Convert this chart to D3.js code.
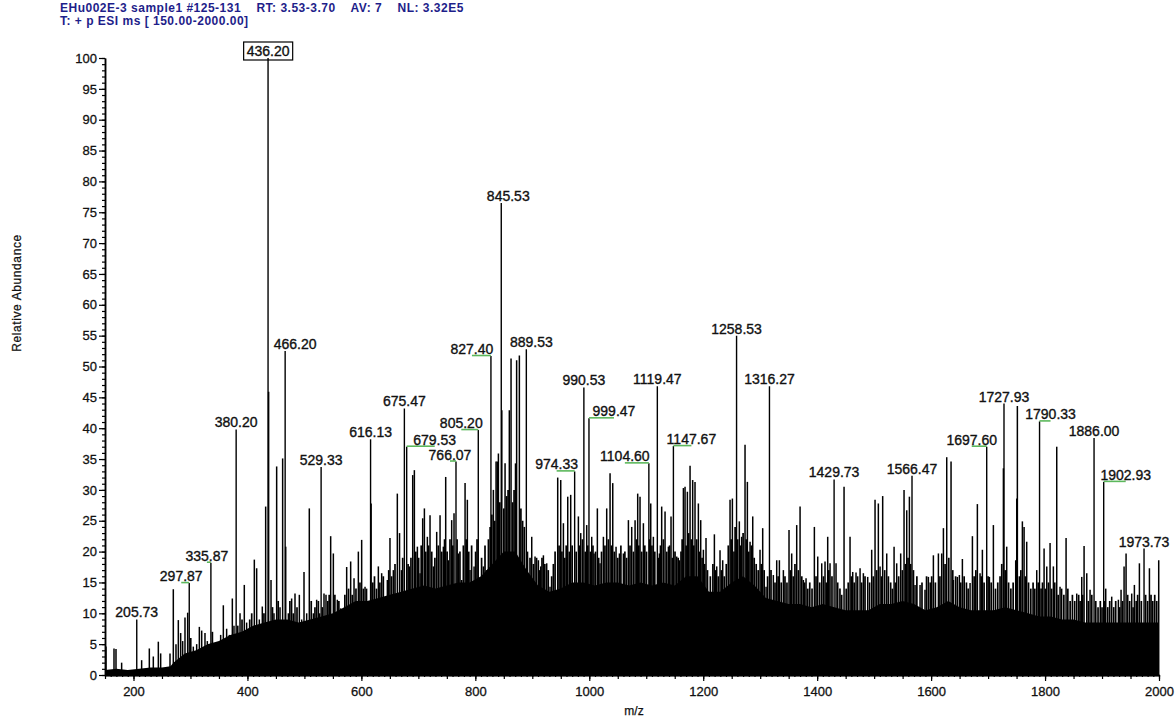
<!DOCTYPE html>
<html>
<head>
<meta charset="utf-8">
<script src="https://cdn.jsdelivr.net/npm/d3@7"></script>
<style>
  body { margin: 0; background: #fff; }
  svg { display: block; }
  text { font-family: "Liberation Sans", Arial, sans-serif; }
</style>
</head>
<body>
<svg id="chart" width="1175" height="719"></svg>
<script>
// ---- scan header ----
const headerLines = [
  "EHu002E-3 sample1 #125-131    RT: 3.53-3.70    AV: 7    NL: 3.32E5",
  "T: + p ESI ms [ 150.00-2000.00]"
];

// ---- annotated peaks (m/z, relative abundance %) ----
const labeledMz = [205.73, 297.87, 335.87, 380.20, 436.20, 466.20, 529.33, 616.13, 675.47, 679.53,
  766.07, 805.20, 827.40, 845.53, 889.53, 974.33, 990.53, 999.47, 1104.60, 1119.47,
  1147.67, 1258.53, 1316.27, 1429.73, 1566.47, 1697.60, 1727.93, 1790.33, 1886.00, 1902.93, 1973.73];
const labeledAb = [9.0, 14.9, 18.2, 39.8, 100, 52.5, 33.7, 38.2, 43.2, 37.0,
  34.6, 39.7, 51.7, 76.5, 52.8, 33.0, 46.6, 41.6, 34.3, 46.8,
  37.1, 55.0, 46.8, 31.7, 32.3, 37.0, 44.0, 41.1, 38.4, 31.3, 20.5];

// ---- other resolved peaks (m/z, relative abundance %) ----
const peakMz = [151.7, 165.8, 169.3, 179.2, 214.3, 227.8, 234.8, 243.6, 247.7, 264.1,
  269.9, 274.6, 278.7, 282.8, 286.3, 290.4, 295.1, 305.0, 310.9, 315.6,
  319.7, 325.5, 329.6, 343.1, 347.2, 353.0, 357.7, 363.5, 368.2, 373.5,
  376.4, 387.0, 394.5, 398.6, 412.1, 416.2, 420.9, 426.1, 432.0, 437.2,
  441.4, 446.6, 451.3, 457.2, 461.8, 467.2, 477.6, 483.5, 491.1, 495.2,
  499.3, 504.0, 508.6, 515.7, 521.5, 534.4, 537.9, 546.1, 550.8, 557.8,
  563.6, 568.3, 574.2, 581.2, 587.1, 594.7, 600.5, 606.4, 612.2, 617.1,
  629.8, 635.6, 641.5, 645.6, 650.2, 656.1, 663.1, 667.0, 684.2, 690.1,
  693.0, 698.3, 703.0, 707.6, 710.6, 715.8, 720.5, 726.4, 732.2, 738.1,
  743.9, 748.0, 752.7, 758.5, 762.6, 770.2, 776.1, 782.0, 786.0, 790.7,
  797.8, 808.3, 814.1, 820.0, 831.7, 836.4, 838.6, 840.5, 846.5, 852.2,
  859.7, 862.7, 870.5, 872.5, 877.3, 893.1, 899.0, 904.8, 910.7, 914.8,
  919.5, 925.3, 931.1, 944.6, 949.9, 954.6, 962.2, 967.4, 980.9, 985.0,
  995.5, 1004.3, 1008.4, 1014.2, 1018.9, 1024.8, 1030.6, 1036.5, 1041.2, 1047.0,
  1052.9, 1059.9, 1068.7, 1074.5, 1080.4, 1085.0, 1089.1, 1095.0, 1107.9, 1112.5,
  1123.1, 1127.1, 1133.0, 1138.9, 1143.5, 1153.5, 1158.2, 1165.2, 1168.1, 1172.2,
  1176.9, 1181.5, 1185.6, 1191.5, 1195.6, 1200.3, 1204.9, 1214.9, 1219.6, 1223.7,
  1229.5, 1234.2, 1247.1, 1251.2, 1263.4, 1267.5, 1273.4, 1277.5, 1282.2, 1286.9,
  1299.7, 1304.4, 1310.3, 1323.1, 1329.0, 1333.7, 1340.7, 1350.6, 1355.3, 1364.1,
  1370.0, 1375.8, 1380.5, 1395.1, 1401.0, 1408.0, 1413.8, 1418.5, 1422.6, 1433.1,
  1447.2, 1457.7, 1462.4, 1468.2, 1475.3, 1481.1, 1488.7, 1495.7, 1501.6, 1507.4,
  1510.4, 1515.0, 1522.1, 1535.0, 1539.6, 1546.6, 1552.5, 1557.2, 1561.9, 1571.8,
  1580.6, 1589.3, 1595.2, 1604.0, 1612.8, 1618.6, 1621.6, 1627.4, 1635.0, 1639.1,
  1646.1, 1649.6, 1654.9, 1668.4, 1672.5, 1681.2, 1685.9, 1690.0, 1702.3, 1709.3,
  1726.9, 1732.7, 1748.5, 1750.3, 1751.4, 1760.2, 1763.2, 1767.8, 1785.4, 1798.3,
  1803.0, 1808.8, 1814.6, 1820.5, 1826.3, 1836.9, 1855.6, 1864.4, 1868.5, 1873.2,
  1879.0, 1906.5, 1917.0, 1928.7, 1933.4, 1938.7, 1942.2, 1952.1, 1956.8, 1965.6,
  1983.2, 1999.5];
const peakAb = [4.6, 4.3, 4.2, 2.0, 2.4, 4.3, 3.0, 5.4, 3.5, 3.5,
  13.9, 5.0, 8.9, 6.8, 5.5, 9.3, 10.1, 4.6, 5.0, 7.8,
  7.2, 6.8, 5.5, 5.0, 5.2, 6.5, 11.3, 7.5, 6.5, 12.4,
  8.0, 10.0, 14.6, 8.5, 18.7, 17.3, 9.0, 11.1, 27.3, 45.9,
  15.4, 10.0, 33.8, 11.0, 35.1, 20.8, 12.4, 13.2, 13.0, 9.0,
  16.7, 10.0, 27.0, 10.0, 12.2, 13.2, 13.0, 22.5, 19.7, 12.2,
  10.8, 9.0, 17.5, 18.4, 15.7, 20.0, 21.9, 14.3, 11.0, 27.8,
  17.6, 16.5, 12.2, 15.4, 22.2, 17.0, 29.4, 23.0, 17.6, 32.4,
  33.2, 20.8, 16.5, 25.4, 27.0, 22.4, 25.9, 17.6, 23.2, 25.9,
  20.8, 32.1, 18.6, 25.1, 26.2, 19.7, 15.4, 31.1, 28.4, 17.0,
  17.6, 14.3, 17.6, 17.0, 30.0, 34.6, 34.6, 35.9, 42.9, 34.3,
  42.9, 51.3, 34.3, 51.0, 51.8, 15.4, 22.4, 19.2, 18.6, 17.6,
  19.4, 18.1, 14.3, 32.0, 31.6, 24.6, 28.9, 29.2, 25.7, 23.0,
  24.3, 22.4, 19.7, 27.0, 18.1, 22.4, 27.0, 32.7, 31.1, 20.8,
  19.7, 19.7, 25.1, 24.0, 25.1, 29.4, 28.9, 24.6, 27.8, 22.4,
  19.7, 27.3, 26.5, 20.8, 25.7, 19.2, 18.6, 30.3, 30.5, 29.7,
  33.9, 31.6, 31.3, 27.8, 25.1, 20.3, 22.2, 13.2, 22.8, 17.6,
  20.2, 18.6, 28.4, 28.6, 24.9, 22.4, 37.3, 31.3, 21.6, 25.7,
  20.3, 23.8, 14.3, 16.2, 18.6, 18.6, 17.0, 23.5, 19.7, 24.3,
  27.3, 15.4, 15.7, 24.0, 19.2, 18.1, 18.4, 22.4, 18.1, 18.1,
  30.5, 22.4, 16.7, 16.6, 17.3, 16.5, 15.9, 20.3, 28.4, 27.8,
  17.6, 29.0, 19.7, 20.8, 18.1, 19.7, 30.0, 26.7, 28.9, 14.6,
  14.6, 13.8, 15.9, 19.4, 19.7, 19.7, 23.8, 35.3, 34.6, 15.4,
  15.9, 16.2, 18.8, 14.9, 22.5, 27.7, 16.5, 20.3, 15.9, 24.3,
  33.5, 20.8, 18.6, 28.6, 43.6, 24.9, 24.0, 21.6, 17.0, 20.5,
  17.6, 21.4, 17.6, 37.0, 14.3, 22.2, 13.2, 15.9, 20.9, 16.5,
  13.8, 14.0, 12.7, 12.2, 13.8, 17.6, 19.7, 13.2, 14.6, 18.1,
  17.3, 18.6];

// ---- small peaks packed between the resolved ones (m/z, relative abundance %) ----
const minorMz = [300.5, 338.5, 340.5, 383.0, 390.5, 404.0, 407.5, 429.0, 444.0, 454.0,
  472.0, 474.5, 480.5, 487.0, 512.0, 518.5, 524.5, 526.5, 531.5, 541.0,
  543.5, 553.5, 560.5, 571.0, 577.5, 584.0, 590.5, 597.5, 603.5, 609.0,
  620.0, 623.0, 626.5, 632.5, 638.5, 648.0, 653.0, 659.0, 670.5, 672.5,
  682.0, 687.0, 695.5, 700.5, 705.0, 713.0, 718.0, 723.5, 729.0, 735.0,
  741.0, 746.0, 750.5, 755.5, 760.5, 768.0, 773.0, 779.0, 784.0, 788.5,
  793.5, 800.5, 803.0, 811.0, 817.0, 823.0, 826.0, 829.0, 834.0, 843.0,
  850.0, 855.0, 857.5, 865.5, 868.0, 880.0, 883.0, 886.0, 891.5, 896.0,
  902.0, 907.5, 912.5, 917.0, 922.0, 928.0, 934.0, 937.0, 940.0, 947.0,
  952.0, 957.0, 959.5, 965.0, 970.0, 977.0, 983.0, 988.0, 993.0, 997.5,
  1002.0, 1006.5, 1011.0, 1016.5, 1021.5, 1027.5, 1033.5, 1039.0, 1044.0, 1050.0,
  1055.5, 1062.5, 1065.5, 1071.5, 1077.5, 1083.0, 1087.0, 1092.0, 1097.5, 1100.5,
  1106.0, 1110.0, 1115.0, 1121.0, 1125.0, 1130.0, 1136.0, 1141.0, 1146.0, 1150.5,
  1156.0, 1161.0, 1163.0, 1170.0, 1174.5, 1179.0, 1183.5, 1188.5, 1193.5, 1198.0,
  1202.5, 1207.5, 1212.5, 1217.0, 1221.5, 1226.5, 1232.0, 1237.0, 1240.5, 1244.0,
  1249.0, 1254.0, 1256.0, 1260.5, 1265.5, 1270.0, 1275.5, 1280.0, 1284.5, 1289.5,
  1293.0, 1296.5, 1302.0, 1307.0, 1313.0, 1319.0, 1326.0, 1331.5, 1337.0, 1343.5,
  1347.0, 1353.0, 1358.0, 1361.0, 1367.0, 1373.0, 1378.0, 1383.5, 1387.0, 1391.0,
  1398.0, 1404.5, 1411.0, 1416.0, 1420.5, 1426.0, 1436.0, 1440.0, 1443.0, 1451.0,
  1454.5, 1460.0, 1465.0, 1471.0, 1478.0, 1484.0, 1492.0, 1498.5, 1504.5, 1513.0,
  1518.5, 1525.0, 1529.0, 1532.0, 1537.5, 1543.0, 1549.5, 1555.0, 1559.5, 1564.0,
  1569.0, 1575.0, 1584.0, 1592.0, 1598.5, 1601.0, 1607.5, 1615.5, 1624.5, 1631.0,
  1638.0, 1643.0, 1652.0, 1658.0, 1662.0, 1665.0, 1675.5, 1678.5, 1688.0, 1693.0,
  1700.0, 1705.5, 1713.0, 1717.0, 1721.0, 1724.0, 1730.0, 1736.0, 1740.0, 1744.0,
  1755.0, 1757.5, 1765.5, 1771.0, 1775.0, 1779.0, 1782.0, 1788.0, 1793.0, 1795.5,
  1800.5, 1806.0, 1811.5, 1817.0, 1823.0, 1829.0, 1833.0, 1840.0, 1844.0, 1848.0,
  1852.0, 1859.0, 1861.5, 1866.0, 1876.0, 1882.0, 1889.0, 1893.0, 1897.0, 1900.0,
  1905.0, 1910.0, 1913.5, 1920.5, 1924.0, 1931.0, 1936.0, 1945.0, 1948.5, 1954.5,
  1960.0, 1962.5, 1969.0, 1976.5, 1980.0, 1986.0, 1989.0, 1992.5, 1996.0];
const minorAb = [6, 7, 5, 8, 9, 9, 10, 10, 11, 12,
  10, 12, 10, 11, 12, 11, 12, 10, 11, 12,
  13, 13, 12, 13, 14, 13, 14, 15, 14, 14,
  15, 16, 14, 15, 16, 17, 16, 18, 17, 19,
  18, 19, 20, 19, 21, 20, 21, 20, 19, 21,
  20, 22, 20, 22, 21, 22, 20, 21, 22, 20,
  21, 20, 22, 19, 21, 22, 24, 26, 25, 28,
  27, 29, 30, 28, 30, 27, 25, 24, 20, 19,
  18, 19, 17, 19, 18, 17, 16, 18, 20, 21,
  20, 19, 21, 20, 21, 20, 21, 22, 20, 21,
  20, 21, 20, 19, 20, 21, 22, 21, 20, 19,
  21, 20, 19, 21, 20, 22, 21, 20, 21, 20,
  22, 21, 20, 19, 21, 22, 20, 21, 19, 20,
  19, 20, 22, 21, 23, 22, 21, 22, 20, 19,
  18, 17, 16, 18, 17, 16, 17, 16, 18, 21,
  22, 20, 24, 22, 21, 23, 22, 20, 21, 19,
  18, 17, 18, 17, 16, 17, 15, 16, 15, 16,
  15, 17, 16, 18, 17, 16, 15, 14, 15, 14,
  16, 15, 16, 15, 17, 16, 15, 14, 13, 14,
  15, 16, 15, 16, 15, 16, 15, 16, 17, 16,
  17, 16, 15, 14, 15, 16, 17, 18, 19, 18,
  17, 16, 15, 16, 15, 16, 15, 16, 18, 19,
  17, 16, 15, 16, 15, 14, 16, 17, 16, 15,
  16, 15, 14, 15, 16, 18, 17, 15, 14, 15,
  16, 17, 16, 15, 14, 15, 14, 15, 14, 15,
  14, 15, 14, 15, 13, 14, 13, 14, 12, 13,
  12, 13, 12, 13, 12, 13, 12, 11, 12, 11,
  12, 11, 12, 11, 12, 11, 12, 13, 12, 11,
  12, 13, 12, 13, 12, 13, 12, 13, 12];

// ---- unresolved background envelope (m/z, relative abundance %) ----
const floorMz = [150, 170, 190, 210, 230, 250, 265, 270, 290, 310, 330, 350, 370, 390, 410, 430,
  450, 470, 490, 510, 530, 550, 570, 590, 610, 630, 650, 670, 690, 710, 730, 750, 770, 790,
  810, 830, 850, 870, 890, 910, 930, 950, 970, 990, 1010, 1030, 1050, 1070, 1090, 1110, 1130,
  1150, 1170, 1190, 1210, 1230, 1250, 1270, 1290, 1310, 1330, 1350, 1370, 1390, 1410, 1430,
  1450, 1470, 1490, 1510, 1530, 1550, 1570, 1590, 1610, 1630, 1650, 1670, 1690, 1710, 1730,
  1750, 1770, 1790, 1810, 1830, 1850, 1870, 1890, 1910, 1930, 1950, 1970, 1990, 2000];
const floorAb = [0.8, 1.0, 0.8, 1.0, 1.2, 1.2, 1.4, 2.0, 3.5, 4.0, 5.0, 5.5, 6.5, 7.0, 8.0, 8.5,
  9.0, 9.0, 8.5, 9.0, 9.5, 10.0, 11.0, 12.0, 12.0, 12.5, 13.0, 13.5, 14.0, 14.5, 14.0, 14.5, 15.0, 15.0,
  16.0, 18.0, 20.0, 20.0, 17.0, 14.5, 13.5, 14.0, 15.0, 15.0, 14.5, 15.0, 15.0, 14.5, 15.0, 14.5, 15.0,
  14.5, 16.0, 16.0, 13.5, 13.5, 15.0, 16.0, 14.5, 12.5, 12.0, 11.5, 11.5, 11.0, 11.5, 11.0,
  10.5, 10.5, 10.5, 11.5, 11.5, 12.0, 11.5, 10.5, 11.0, 12.0, 11.0, 10.5, 10.5, 10.5, 11.0,
  10.5, 10.0, 9.5, 9.5, 9.0, 9.0, 8.5, 8.5, 8.5, 8.5, 8.5, 8.5, 8.5, 8.5];

// ---- axes ----
const xDomain = [150, 2000];
const xTickValues = [200, 400, 600, 800, 1000, 1200, 1400, 1600, 1800, 2000];
const yTickValues = [0, 5, 10, 15, 20, 25, 30, 35, 40, 45, 50, 55, 60, 65, 70, 75, 80, 85, 90, 95, 100];
const xTitle = "m/z";
const yTitle = "Relative Abundance";

// label placement tweaks (horizontal offset in px) and which labels get a leader line
const labelShift = {
  "297.87": -8, "335.87": -4, "466.20": 10, "679.53": 28, "766.07": -6, "805.20": -17,
  "827.40": -19, "845.53": 7, "889.53": 5, "974.33": -18, "999.47": 25, "1104.60": -24,
  "1147.67": 18, "1697.60": -15, "1790.33": 11, "1902.93": 22
};
const leaderLabels = new Set(["297.87", "335.87", "679.53", "766.07", "805.20", "827.40", "974.33",
  "999.47", "1104.60", "1147.67", "1697.60", "1790.33", "1902.93"]);

const svg = d3.select("#chart");
const x = d3.scaleLinear().domain(xDomain).range([105, 1159]);
const y = d3.scaleLinear().domain([0, 100]).range([675, 58]);

// header
const header = svg.append("g").attr("fill", "#1e1e8a").attr("font-size", 12)
  .attr("font-weight", "bold").attr("letter-spacing", 0.5);
headerLines.forEach((t, i) => {
  header.append("text").attr("x", 60).attr("y", 12 + i * 13).attr("xml:space", "preserve")
    .style("white-space", "pre").text(t);
});

// background envelope
const floorData = floorMz.map((m, i) => ({ mz: m, ab: floorAb[i] }));
svg.append("path")
  .datum(floorData)
  .attr("fill", "#000")
  .attr("d", d3.area().x(d => x(d.mz)).y0(y(0)).y1(d => y(d.ab)));

// sticks
const stick = (g, data, w) => g.selectAll("line").data(data).join("line")
  .attr("x1", d => x(d.mz)).attr("x2", d => x(d.mz))
  .attr("y1", y(0)).attr("y2", d => y(d.ab))
  .attr("stroke", "#000").attr("stroke-width", w);

stick(svg.append("g"), minorMz.map((m, i) => ({ mz: m, ab: minorAb[i] })), 1.7);
stick(svg.append("g"), peakMz.map((m, i) => ({ mz: m, ab: peakAb[i] })), 1.5);
const labeled = labeledMz.map((m, i) => ({ mz: m, ab: labeledAb[i], text: m.toFixed(2) }));
stick(svg.append("g"), labeled, 1.4);

// leader lines
svg.append("g").selectAll("line").data(labeled.filter(d => leaderLabels.has(d.text))).join("line")
  .attr("x1", d => x(d.mz)).attr("x2", d => x(d.mz) + (labelShift[d.text] || 0))
  .attr("y1", d => y(d.ab) - 0.5).attr("y2", d => y(d.ab) - 0.5)
  .attr("stroke", "#5cb85c").attr("stroke-width", 1.6);

// peak labels
const lbl = svg.append("g").attr("font-size", 14).attr("fill", "#111").attr("text-anchor", "middle")
  .attr("stroke", "#111").attr("stroke-width", 0.35);
lbl.selectAll("text").data(labeled).join("text")
  .attr("x", d => x(d.mz) + (labelShift[d.text] || 0))
  .attr("y", d => y(d.ab) - 2)
  .text(d => d.text);

// base peak box
const base = labeled[labeledAb.indexOf(d3.max(labeledAb))];
const bb = lbl.selectAll("text").filter(d => d === base).node().getBBox();
svg.append("rect").attr("x", bb.x - 3).attr("y", bb.y - 1).attr("width", bb.width + 6).attr("height", bb.height + 2)
  .attr("fill", "none").attr("stroke", "#000").attr("stroke-width", 1.2);

const tickFont = sel => sel.attr("font-size", 13).attr("fill", "#111")
  .attr("font-family", "'Liberation Sans', Arial, sans-serif").attr("stroke", "#111").attr("stroke-width", 0.3);

// y axis
const yAxisG = svg.append("g").attr("transform", `translate(${x.range()[0]},0)`);
yAxisG.call(d3.axisLeft(y).tickValues(d3.range(0, 101, 1)).tickSize(3).tickSizeOuter(0).tickFormat(""));
yAxisG.append("g").call(d3.axisLeft(y).tickValues(yTickValues).tickSize(6).tickSizeOuter(0));
yAxisG.selectAll("path.domain").attr("stroke", "#000").attr("stroke-width", 1.5);
yAxisG.selectAll(".tick line").attr("stroke", "#000").attr("stroke-width", 1.2);
tickFont(yAxisG.selectAll(".tick text").attr("x", -8));

// x axis
const xAxisG = svg.append("g").attr("transform", `translate(0,${y(0)})`);
xAxisG.call(d3.axisBottom(x).tickValues(d3.range(150, 2001, 10)).tickSize(2).tickSizeOuter(0).tickFormat(""));
xAxisG.append("g").call(d3.axisBottom(x).tickValues(d3.range(150, 2001, 50)).tickSize(4).tickSizeOuter(0).tickFormat(""));
xAxisG.append("g").call(d3.axisBottom(x).tickValues(xTickValues).tickSize(6).tickSizeOuter(0).tickFormat(d3.format("d")));
xAxisG.selectAll("path.domain").attr("stroke", "#000").attr("stroke-width", 1.5);
xAxisG.selectAll(".tick line").attr("stroke", "#000").attr("stroke-width", 1.2);
tickFont(xAxisG.selectAll(".tick text").attr("dy", "0.9em"));

// axis titles
svg.append("text").attr("x", 634).attr("y", 715).attr("text-anchor", "middle")
  .attr("font-size", 12).attr("fill", "#111").attr("stroke", "#111").attr("stroke-width", 0.25).text(xTitle);
svg.append("text").attr("transform", "translate(21,293) rotate(-90)").attr("text-anchor", "middle")
  .attr("font-size", 12).attr("fill", "#111").attr("stroke", "#111").attr("stroke-width", 0.25)
  .attr("letter-spacing", 0.6).text(yTitle);
</script>
</body>
</html>
